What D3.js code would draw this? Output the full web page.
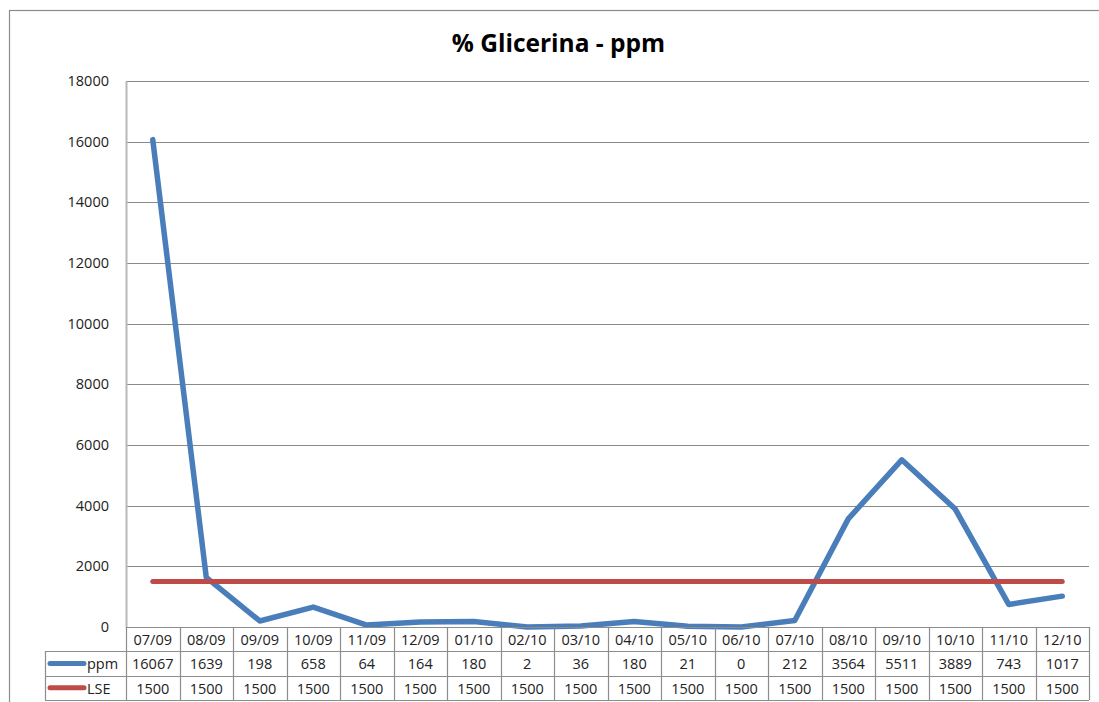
<!DOCTYPE html>
<html><head><meta charset="utf-8">
<script src="https://cdn.jsdelivr.net/npm/d3@7"></script>
<style>html,body{margin:0;padding:0;background:#fff;overflow:hidden;}svg{display:block;}</style>
</head><body>
<script>
const categories = ["07/09","08/09","09/09","10/09","11/09","12/09","01/10","02/10","03/10","04/10","05/10","06/10","07/10","08/10","09/10","10/10","11/10","12/10"];
const ppm = [16067,1639,198,658,64,164,180,2,36,180,21,0,212,3564,5511,3889,743,1017];
const lse = [1500,1500,1500,1500,1500,1500,1500,1500,1500,1500,1500,1500,1500,1500,1500,1500,1500,1500];
const yTicks = [0,2000,4000,6000,8000,10000,12000,14000,16000,18000];
const seriesNames = ["ppm","LSE"];
const chartTitle = "% Glicerina - ppm";

(function(){
const W = 1099, H = 702;
const pL = 126, pR = 1089, pT = 81, pB = 627;
const rowH = 24.3;
const font = "'Open Sans', sans-serif";

const svg = d3.select("body").append("svg").attr("width", W).attr("height", H);

// outer frame
svg.append("rect").attr("x", 9.5).attr("y", 10.5).attr("width", W).attr("height", H)
  .attr("fill", "none").attr("stroke", "#8c8c8c").attr("stroke-width", 1.2);

svg.append("text").attr("x", 558.5).attr("y", 52).attr("text-anchor", "middle")
  .attr("font-family", font).attr("font-weight", "bold").attr("font-size", 24.5)
  .attr("fill", "#000").text(chartTitle);

const x = d3.scaleBand().domain(categories).range([pL, pR]).padding(0);
const y = d3.scaleLinear().domain([0, 18000]).range([pB, pT]);
const cx = d => x(d) + x.bandwidth() / 2;

// gridlines
svg.append("g").selectAll("line").data(yTicks.filter(t => t > 0)).join("line")
  .attr("x1", pL).attr("x2", pR)
  .attr("y1", d => Math.round(y(d)) + 0.5).attr("y2", d => Math.round(y(d)) + 0.5)
  .attr("stroke", "#8a8a8a").attr("stroke-width", 1);

const ts = 14.5;
// y axis
const yAxis = svg.append("g").attr("transform", `translate(${pL},0)`)
  .call(d3.axisLeft(y).tickValues(yTicks).tickSize(0).tickPadding(17).tickFormat(d3.format("d")));
yAxis.select(".domain").attr("stroke", "#b8b8b8").attr("stroke-width", 2);
yAxis.selectAll("text").attr("font-family", font).attr("font-size", ts).attr("fill", "#222");

// lines
const line = d3.line().x((d, i) => cx(categories[i])).y(d => y(d));
svg.append("path").datum(ppm).attr("d", line).attr("fill", "none")
  .attr("stroke", "#4a7ebb").attr("stroke-width", 5.5).attr("stroke-linejoin", "round").attr("stroke-linecap", "round");
svg.append("path").datum(lse).attr("d", line).attr("fill", "none")
  .attr("stroke", "#be4b48").attr("stroke-width", 5).attr("stroke-linejoin", "round").attr("stroke-linecap", "round");

// data table
const tbl = svg.append("g");
const tStroke = "#8c8c8c";
const r0 = pB, r1 = r0 + rowH, r2 = r1 + rowH, r3 = 700;
const legL = 45;
tbl.append("line").attr("x1", pL).attr("x2", pR).attr("y1", r0 + 0.5).attr("y2", r0 + 0.5).attr("stroke", tStroke).attr("stroke-width", 1.2);
[r1, r2, r3].forEach(r => tbl.append("line").attr("x1", legL).attr("x2", pR).attr("y1", Math.round(r) + 0.5).attr("y2", Math.round(r) + 0.5).attr("stroke", tStroke).attr("stroke-width", 1.2));
tbl.append("line").attr("x1", legL + 0.5).attr("x2", legL + 0.5).attr("y1", r1).attr("y2", r3).attr("stroke", tStroke).attr("stroke-width", 1.2);
tbl.selectAll(".vl").data(categories.concat(["end"])).join("line")
  .attr("x1", d => Math.round(d === "end" ? pR : x(d)) + 0.5)
  .attr("x2", d => Math.round(d === "end" ? pR : x(d)) + 0.5)
  .attr("y1", r0).attr("y2", r3).attr("stroke", tStroke).attr("stroke-width", 1.2);

const off = 6;
tbl.selectAll(".cat").data(categories).join("text")
  .attr("x", d => cx(d)).attr("y", (r0 + r1) / 2 + off).attr("text-anchor", "middle")
  .attr("font-family", font).attr("font-size", ts).attr("fill", "#222").text(d => d);
tbl.selectAll(".v1").data(ppm).join("text")
  .attr("x", (d, i) => cx(categories[i])).attr("y", (r1 + r2) / 2 + off).attr("text-anchor", "middle")
  .attr("font-family", font).attr("font-size", ts).attr("fill", "#222").text(d => d);
tbl.selectAll(".v2").data(lse).join("text")
  .attr("x", (d, i) => cx(categories[i])).attr("y", (r2 + r3) / 2 + off).attr("text-anchor", "middle")
  .attr("font-family", font).attr("font-size", ts).attr("fill", "#222").text(d => d);

const legColors = ["#4a7ebb", "#be4b48"];
[[r1, r2], [r2, r3]].forEach(([a, b], i) => {
  const my = (a + b) / 2;
  tbl.append("line").attr("x1", 50).attr("x2", 84).attr("y1", my).attr("y2", my)
    .attr("stroke", legColors[i]).attr("stroke-width", 5).attr("stroke-linecap", "round");
  tbl.append("text").attr("x", 87).attr("y", my + off).attr("font-family", font).attr("font-size", ts)
    .attr("fill", "#222").text(seriesNames[i]);
});
})();
</script>
</body></html>
